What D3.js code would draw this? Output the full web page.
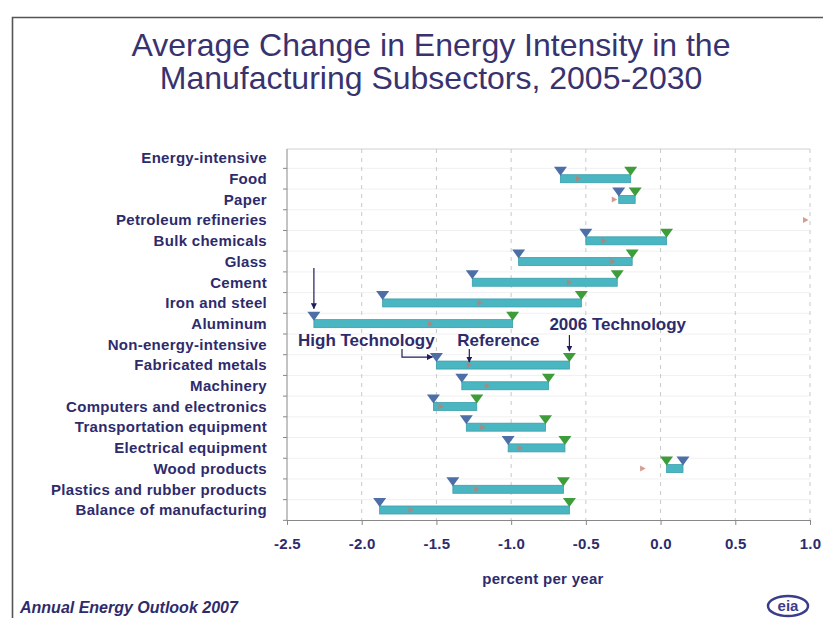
<!DOCTYPE html>
<html>
<head>
<meta charset="utf-8">
<script src="https://cdn.jsdelivr.net/npm/d3@7"></script>
<style>
  body { margin: 0; background: #fff; }
  svg { display: block; font-family: "Liberation Sans", Arial, sans-serif; }
</style>
</head>
<body>
<svg id="chart" width="823" height="618"></svg>
<script>
// data (percent per year)
var categories = ['Energy-intensive', 'Food', 'Paper', 'Petroleum refineries', 'Bulk chemicals',
    'Glass', 'Cement', 'Iron and steel', 'Aluminum', 'Non-energy-intensive', 'Fabricated metals',
    'Machinery', 'Computers and electronics', 'Transportation equipment', 'Electrical equipment',
    'Wood products', 'Plastics and rubber products', 'Balance of manufacturing'];
var highTech  = [null, -0.67, -0.28, null, -0.50, -0.95, -1.26, -1.86, -2.32, null, -1.50, -1.33, -1.52, -1.30, -1.02, 0.15, -1.39, -1.88];
var reference = [null, -0.55, -0.31, 0.97, -0.38, -0.32, -0.61, -1.21, -1.54, null, -1.28, -1.16, -1.47, -1.19, -0.94, -0.12, -1.23, -1.67];
var tech2006  = [null, -0.20, -0.17, null, 0.04, -0.19, -0.29, -0.53, -0.99, null, -0.61, -0.75, -1.23, -0.77, -0.64, 0.04, -0.65, -0.61];
var xTicks = [-2.5, -2.0, -1.5, -1.0, -0.5, 0.0, 0.5, 1.0];

(function() {

var navy = '#2e2b6c';

var svg = d3.select('#chart');

var plotLeft = 287, plotRight = 810, plotTop = 149, plotBottom = 520;

var x = d3.scaleLinear().domain([-2.5, 1.0]).range([plotLeft, plotRight]);
var y = d3.scalePoint().domain(categories).range([158, 510]);
var step = y.step();

// frame
svg.append('path')
    .attr('d', 'M12.5,618 L12.5,17.5 L823,17.5')
    .attr('fill', 'none')
    .attr('stroke', '#555')
    .attr('stroke-width', 1.6);

// title
svg.append('text')
    .attr('x', 431).attr('y', 56)
    .attr('text-anchor', 'middle')
    .attr('font-size', 32)
    .attr('fill', '#38336f')
    .selectAll('tspan')
    .data(['Average Change in Energy Intensity in the', 'Manufacturing Subsectors, 2005-2030'])
    .enter().append('tspan')
    .attr('x', 431)
    .attr('dy', function(d, i) { return i ? 33 : 0; })
    .text(function(d) { return d; });

// faint row lines
svg.append('g').selectAll('line')
    .data(categories.slice(1))
    .enter().append('line')
    .attr('x1', plotLeft).attr('x2', plotRight)
    .attr('y1', function(d) { return y(d) - step / 2; })
    .attr('y2', function(d) { return y(d) - step / 2; })
    .attr('stroke', '#f0f0f0');

// vertical dashed grid
svg.append('g').selectAll('line')
    .data(xTicks.slice(1))
    .enter().append('line')
    .attr('x1', function(d) { return x(d); })
    .attr('x2', function(d) { return x(d); })
    .attr('y1', plotTop).attr('y2', plotBottom)
    .attr('stroke', '#c8c8c8')
    .attr('stroke-dasharray', '4,5');

// top border of plot
svg.append('line')
    .attr('x1', plotLeft).attr('x2', plotRight)
    .attr('y1', plotTop).attr('y2', plotTop)
    .attr('stroke', '#d0d0d0');

var labelFont = function(sel) {
    sel.attr('font-size', 15).attr('font-weight', 'bold')
        .attr('letter-spacing', 0.3)
        .attr('fill', navy).attr('font-family', '"Liberation Sans", Arial, sans-serif');
};

// x axis
var xAxis = svg.append('g')
    .attr('transform', 'translate(0,' + plotBottom + ')')
    .call(d3.axisBottom(x).tickValues(xTicks).tickSize(5).tickSizeOuter(0)
        .tickFormat(function(d) { return d.toFixed(1); }).tickPadding(13));
xAxis.select('.domain').attr('stroke', '#888');
xAxis.selectAll('.tick line').attr('stroke', '#888');
xAxis.selectAll('text').call(labelFont);

svg.append('text')
    .attr('x', 543).attr('y', 584)
    .attr('text-anchor', 'middle')
    .call(labelFont)
    .text('percent per year');

// y axis
var yAxis = svg.append('g')
    .attr('transform', 'translate(' + plotLeft + ',0)')
    .call(d3.axisLeft(y).tickSize(0).tickPadding(20));
yAxis.select('.domain').remove();
yAxis.selectAll('text').call(labelFont);

svg.append('line')
    .attr('x1', plotLeft).attr('x2', plotLeft)
    .attr('y1', plotTop).attr('y2', plotBottom)
    .attr('stroke', '#888');
svg.append('g').selectAll('line')
    .data(categories)
    .enter().append('line')
    .attr('x1', plotLeft - 4).attr('x2', plotLeft)
    .attr('y1', function(d) { return y(d) + step / 2; })
    .attr('y2', function(d) { return y(d) + step / 2; })
    .attr('stroke', '#888');

// rows
var rows = categories.map(function(c, i) {
    return {cat: c, hi: highTech[i], ref: reference[i], t06: tech2006[i]};
});

// bars between High Technology and 2006 Technology
svg.append('g').selectAll('rect')
    .data(rows.filter(function(d) { return d.hi !== null && d.t06 !== null; }))
    .enter().append('rect')
    .attr('x', function(d) { return x(Math.min(d.hi, d.t06)); })
    .attr('width', function(d) { return Math.abs(x(d.t06) - x(d.hi)); })
    .attr('y', function(d) { return y(d.cat) - 4; })
    .attr('height', 8)
    .attr('fill', '#4ab6c2')
    .attr('stroke', '#3a9fab')
    .attr('stroke-width', 0.8);

// reference markers
svg.append('g').selectAll('path')
    .data(rows.filter(function(d) { return d.ref !== null; }))
    .enter().append('path')
    .attr('d', function(d) {
        var cx = x(d.ref), cy = y(d.cat);
        return 'M' + (cx - 2.5) + ',' + (cy - 3) + 'L' + (cx + 3) + ',' + cy + 'L' + (cx - 2.5) + ',' + (cy + 3) + 'Z';
    })
    .attr('fill', '#c87a6c')
    .attr('opacity', 0.75);

function tri(v, cat) {
    var cx = x(v), cy = y(cat);
    return 'M' + (cx - 6.5) + ',' + (cy - 12) + 'L' + (cx + 6.5) + ',' + (cy - 12) + 'L' + cx + ',' + (cy - 3) + 'Z';
}

svg.append('g').selectAll('path')
    .data(rows.filter(function(d) { return d.t06 !== null; }))
    .enter().append('path')
    .attr('d', function(d) { return tri(d.t06, d.cat); })
    .attr('fill', '#3f9c3b');

svg.append('g').selectAll('path')
    .data(rows.filter(function(d) { return d.hi !== null; }))
    .enter().append('path')
    .attr('d', function(d) { return tri(d.hi, d.cat); })
    .attr('fill', '#4d6ea6');

// annotations
svg.append('defs').append('marker')
    .attr('id', 'arr')
    .attr('viewBox', '0 0 10 10')
    .attr('refX', 9).attr('refY', 5)
    .attr('markerWidth', 6).attr('markerHeight', 6)
    .attr('markerUnits', 'userSpaceOnUse')
    .attr('orient', 'auto')
    .append('path').attr('d', 'M0,0 L10,5 L0,10 Z').attr('fill', '#1f1d5a');

function arrow(pts) {
    svg.append('path')
        .attr('d', d3.line()(pts))
        .attr('fill', 'none')
        .attr('stroke', '#1f1d5a')
        .attr('stroke-width', 1.2)
        .attr('marker-end', 'url(#arr)');
}

var annFont = function(sel) {
    sel.attr('font-size', 17).attr('font-weight', 'bold').attr('fill', navy);
};

var yAl = y('Aluminum'), yFab = y('Fabricated metals');
arrow([[x(highTech[8]), 268], [x(highTech[8]), yAl - 15]]);

var tx06 = x(tech2006[10]);
svg.append('text')
    .attr('x', tx06 - 20).attr('y', yFab - 35)
    .call(annFont)
    .text('2006 Technology');
arrow([[tx06, yFab - 30], [tx06, yFab - 14]]);

var hx = x(highTech[10]);
svg.append('text')
    .attr('x', 298).attr('y', yFab - 19)
    .call(annFont)
    .text('High Technology');
arrow([[402, yFab - 16], [402, yFab - 8], [hx - 4, yFab - 8]]);

var rx = x(reference[10]);
svg.append('text')
    .attr('x', rx - 12).attr('y', yFab - 19)
    .call(annFont)
    .text('Reference');
arrow([[rx, yFab - 16], [rx, yFab - 3]]);

// footer
svg.append('text')
    .attr('x', 20).attr('y', 613)
    .attr('font-size', 16).attr('font-weight', 'bold').attr('font-style', 'italic')
    .attr('fill', navy)
    .text('Annual Energy Outlook 2007');

var logo = svg.append('g').attr('transform', 'translate(788,606)');
logo.append('ellipse').attr('rx', 20).attr('ry', 10)
    .attr('fill', 'none').attr('stroke', '#3a3d8a').attr('stroke-width', 2.5);
logo.append('text')
    .attr('text-anchor', 'middle').attr('y', 5)
    .attr('font-size', 15).attr('font-weight', 'bold')
    .attr('fill', '#3a3d8a')
    .text('eia');

})();
</script>
</body>
</html>
